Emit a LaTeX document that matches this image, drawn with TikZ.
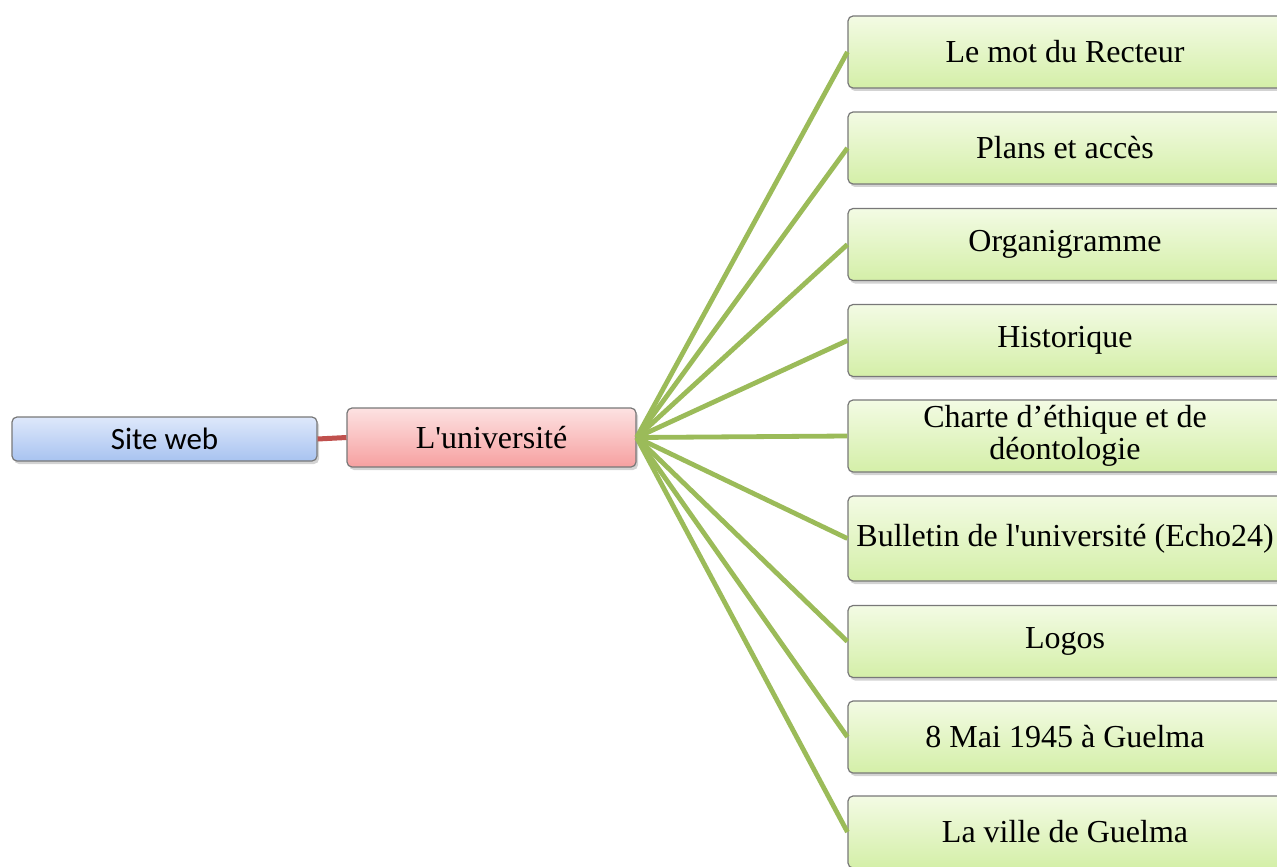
\documentclass[tikz,border=0pt]{standalone}
\usepackage{fontspec}
\setmainfont{Liberation Serif}[Ligatures=TeXOff]
\newfontfamily\calibrifont{Carlito}
\usetikzlibrary{shadows}
\definecolor{SiteTop}{RGB}{222,232,251}
\definecolor{SiteBottom}{RGB}{168,195,240}
\definecolor{UnivTop}{RGB}{253,226,226}
\definecolor{UnivBottom}{RGB}{246,160,160}
\definecolor{PageTop}{RGB}{243,251,228}
\definecolor{PageBottom}{RGB}{212,239,168}
\definecolor{BorderColor}{RGB}{120,120,120}
\definecolor{PageLinkColor}{RGB}{155,187,89}
\definecolor{RootLinkColor}{RGB}{192,80,77}
\tikzstyle{rootlink} = [line width=2.5pt, RootLinkColor]
\tikzstyle{pagelink} = [line width=2.4pt, PageLinkColor]
\tikzset{
  box/.style={rectangle, rounded corners=2.5pt, draw=BorderColor, line width=0.6pt,
    align=center, font=\fontsize{16}{16}\selectfont,
    drop shadow={shadow xshift=1pt, shadow yshift=-1.5pt, opacity=0.35}},
  sitebox/.style={box, top color=SiteTop, bottom color=SiteBottom,
    minimum width=152.5pt, minimum height=22pt, font=\calibrifont\fontsize{15.5}{15}\selectfont},
  univbox/.style={box, top color=UnivTop, bottom color=UnivBottom,
    minimum width=144.5pt, minimum height=29.5pt},
  pagebox/.style={box, top color=PageTop, bottom color=PageBottom,
    minimum width=217pt, minimum height=36pt, inner sep=2pt}
}
\begin{document}
\begin{tikzpicture}[x=0.5pt, y=-0.5pt]
  \useasboundingbox (0,0) rectangle (1277,866);
  % Site and university
  \node[sitebox] (site) at (164.5,439) {Site web};
  \node[univbox] (univ) at (491.5,437.5) {L'universit\'e};

  % Pages of the university
  \node[pagebox] (recteur) at (1065,52) {Le mot du Recteur};
  \node[pagebox] (plans) at (1065,148) {Plans et acc\`es};
  \node[pagebox] (organi) at (1065,244.5) {Organigramme};
  \node[pagebox] (histo) at (1065,340.5) {Historique};
  \node[pagebox] (charte) at (1065,436) {Charte d’\'ethique et de\\d\'eontologie};
  \node[pagebox, minimum height=42.5pt] (bulletin) at (1065,538.5) {Bulletin de l'universit\'e (Echo24)};
  \node[pagebox] (logos) at (1065,641.5) {Logos};
  \node[pagebox] (mai) at (1065,737) {8 Mai 1945 \`a Guelma};
  \node[pagebox] (ville) at (1065,832) {La ville de Guelma};

  % Links
  \draw[rootlink] (site.east) -- (univ.west);
  \draw[pagelink] (univ.east) -- (recteur.west);
  \draw[pagelink] (univ.east) -- (plans.west);
  \draw[pagelink] (univ.east) -- (organi.west);
  \draw[pagelink] (univ.east) -- (histo.west);
  \draw[pagelink] (univ.east) -- (charte.west);
  \draw[pagelink] (univ.east) -- (bulletin.west);
  \draw[pagelink] (univ.east) -- (logos.west);
  \draw[pagelink] (univ.east) -- (mai.west);
  \draw[pagelink] (univ.east) -- (ville.west);
\end{tikzpicture}
\end{document}
